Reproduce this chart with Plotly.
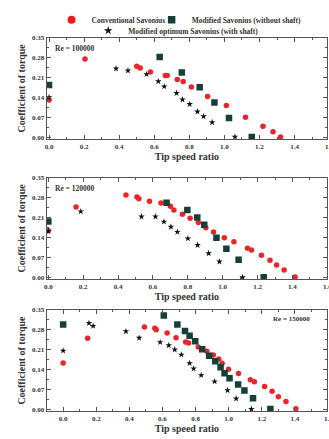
import plotly.graph_objects as go

# ---------------- data ----------------
# Re = 100000
conv1_x = [0.0, 0.205, 0.50, 0.52, 0.578, 0.663, 0.674, 0.731, 0.765, 0.812, 0.904, 1.011, 1.12, 1.22, 1.277, 1.32]
conv1_y = [0.131, 0.275, 0.249, 0.243, 0.229, 0.217, 0.217, 0.203, 0.196, 0.176, 0.143, 0.111, 0.070, 0.038, 0.019, 0.001]
mod1_x = [0.0, 0.631, 0.757, 0.859, 0.943, 1.026, 1.156]
mod1_y = [0.183, 0.282, 0.227, 0.175, 0.122, 0.067, 0.001]
opt1_x = [0.0, 0.382, 0.45, 0.556, 0.623, 0.657, 0.727, 0.761, 0.802, 0.846, 0.881, 0.93, 1.06]
opt1_y = [0.140, 0.241, 0.234, 0.221, 0.196, 0.178, 0.155, 0.132, 0.116, 0.090, 0.073, 0.052, 0.001]

# Re = 120000
conv2_x = [0.0, 0.159, 0.445, 0.508, 0.519, 0.58, 0.646, 0.70, 0.72, 0.769, 0.813, 0.86, 0.903, 0.947,
           1.009, 1.064, 1.142, 1.165, 1.222, 1.271, 1.309, 1.352, 1.415]
conv2_y = [0.163, 0.247, 0.289, 0.282, 0.276, 0.267, 0.261, 0.249, 0.236, 0.221, 0.207, 0.192, 0.174, 0.159,
           0.139, 0.125, 0.102, 0.096, 0.077, 0.060, 0.043, 0.025, 0.001]
mod2_x = [0.0, 0.678, 0.797, 0.854, 0.894, 0.964, 1.021, 1.091, 1.235]
mod2_y = [0.196, 0.262, 0.236, 0.210, 0.184, 0.139, 0.100, 0.061, 0.0]
opt2_x = [0.0, 0.186, 0.534, 0.614, 0.663, 0.703, 0.74, 0.80, 0.856, 0.919, 0.981, 1.114]
opt2_y = [0.162, 0.231, 0.213, 0.213, 0.195, 0.177, 0.159, 0.136, 0.113, 0.084, 0.055, 0.0]

# Re = 150000
conv3_x = [0.0, 0.148, 0.491, 0.554, 0.562, 0.628, 0.682, 0.74, 0.758, 0.816, 0.868, 0.907, 0.94, 0.96,
           0.999, 1.059, 1.131, 1.155, 1.217, 1.262, 1.30, 1.346, 1.406]
conv3_y = [0.163, 0.250, 0.289, 0.285, 0.280, 0.268, 0.252, 0.237, 0.233, 0.219, 0.204, 0.191, 0.177, 0.162,
           0.141, 0.126, 0.104, 0.097, 0.080, 0.064, 0.044, 0.028, 0.002]
mod3_x = [0.0, 0.608, 0.69, 0.736, 0.764, 0.798, 0.84, 0.882, 0.919, 0.951, 0.975, 1.005, 1.057, 1.095, 1.147, 1.252]
mod3_y = [0.298, 0.330, 0.298, 0.275, 0.259, 0.239, 0.211, 0.188, 0.169, 0.148, 0.127, 0.109, 0.087, 0.066, 0.039, 0.001]
opt3_x = [0.0, 0.156, 0.181, 0.379, 0.459, 0.586, 0.638, 0.674, 0.714, 0.764, 0.788, 0.834, 0.915, 0.993, 1.045, 1.137]
opt3_y = [0.206, 0.303, 0.293, 0.274, 0.251, 0.236, 0.225, 0.210, 0.192, 0.162, 0.143, 0.120, 0.098, 0.067, 0.038, 0.001]

re_labels = ["Re = 100000", "Re = 120000", "Re = 150000"]
series_names = ["Conventional Savonius", "Modified Savonius (without shaft)", "Modified optimum Savonius (with shaft)"]
x_tick_vals = [0.0, 0.2, 0.4, 0.6, 0.8, 1.0, 1.2, 1.4]
x_tick_text = ["0.0", "0.2", "0.4", "0.6", "0.8", "1.0", "1.2", "1.4"]
y_tick_vals = [0.00, 0.07, 0.14, 0.21, 0.28, 0.35]

# ---------------- styling ----------------
FONT = "Liberation Serif"
RED = "#e8252a"
TEAL = "#163f3a"
BLACK = "#111111"
W, H = 329, 439

panels = [
    dict(conv=(conv1_x, conv1_y), mod=(mod1_x, mod1_y), opt=(opt1_x, opt1_y),
         ypx=(34, 137), xrange=[-0.014, 1.585]),
    dict(conv=(conv2_x, conv2_y), mod=(mod2_x, mod2_y), opt=(opt2_x, opt2_y),
         ypx=(176, 279), xrange=[-0.010, 1.598]),
    dict(conv=(conv3_x, conv3_y), mod=(mod3_x, mod3_y), opt=(opt3_x, opt3_y),
         ypx=(310, 413), xrange=[-0.100, 1.594]),
]
XPX = (44, 327)

fig = go.Figure()
layout = dict(
    width=W, height=H, margin=dict(l=0, r=0, t=0, b=0),
    paper_bgcolor="white", plot_bgcolor="white",
    font=dict(family=FONT, color="#222", size=7, weight="bold"),
    showlegend=True,
)

annotations = []
for i, p in enumerate(panels):
    n = "" if i == 0 else str(i + 1)
    xa, ya = "x" + n, "y" + n
    fig.add_trace(go.Scatter(x=p["conv"][0], y=p["conv"][1], mode="markers", xaxis=xa, yaxis=ya,
                             marker=dict(symbol="circle", size=5.5, color=RED), showlegend=False))
    fig.add_trace(go.Scatter(x=p["mod"][0], y=p["mod"][1], mode="markers", xaxis=xa, yaxis=ya,
                             marker=dict(symbol="square", size=6.5, color=TEAL), showlegend=False))
    fig.add_trace(go.Scatter(x=p["opt"][0], y=p["opt"][1], mode="markers", xaxis=xa, yaxis=ya,
                             marker=dict(symbol="star", size=5, color=BLACK), showlegend=False))
    y0, y1 = p["ypx"]
    axis_common = dict(showline=True, linecolor="#555", linewidth=1, mirror="allticks",
                       ticks="inside", ticklen=4, tickwidth=1, tickcolor="#555",
                       showgrid=False, zeroline=False, fixedrange=True,
                       tickfont=dict(family=FONT, size=7, color="#333", weight="bold"))
    layout["xaxis" + n] = dict(axis_common, domain=[XPX[0] / W, XPX[1] / W], anchor=ya,
                               range=p["xrange"], tickvals=x_tick_vals, ticktext=x_tick_text,
                               minor=dict(dtick=0.1, tick0=0, ticks="inside", ticklen=2, tickcolor="#555"),
                               title=dict(text="Tip speed ratio", standoff=3,
                                          font=dict(family=FONT, size=10, color="#333", weight="bold")))
    layout["yaxis" + n] = dict(axis_common, domain=[1 - y1 / H, 1 - y0 / H], anchor=xa,
                               range=[-0.0069, 0.35], tickvals=y_tick_vals, tickformat=".2f",
                               minor=dict(dtick=0.035, tick0=0, ticks="inside", ticklen=2, tickcolor="#555"),
                               title=dict(text="Coefficient of torque", standoff=4,
                                          font=dict(family=FONT, size=10, color="#333", weight="bold")))
    # "1.6" tick label cut at the right edge
    r0, r1 = p["xrange"]
    px16 = XPX[0] + (1.6 - r0) / (r1 - r0) * (XPX[1] - XPX[0])
    annotations.append(dict(text="1.6", xref="paper", yref="paper", x=px16 / W, y=1 - (y1 + 8) / H,
                            showarrow=False, xanchor="center", yanchor="middle",
                            font=dict(family=FONT, size=7, color="#333", weight="bold")))
    # Re labels
    if i < 2:
        annotations.append(dict(text=re_labels[i], xref="paper", yref="paper", x=50 / W, y=1 - (y0 + 11) / H,
                                showarrow=False, xanchor="left", yanchor="middle",
                                font=dict(family=FONT, size=7.5, color="#333", weight="bold")))
    else:
        annotations.append(dict(text=re_labels[i], xref="paper", yref="paper", x=312 / W, y=1 - (y0 + 9) / H,
                                showarrow=False, xanchor="right", yanchor="middle",
                                font=dict(family=FONT, size=7, color="#333", weight="bold")))

# legend entries
leg_markers = [dict(symbol="circle", size=8, color="#ee1c1c"),
               dict(symbol="square", size=7.5, color=TEAL),
               dict(symbol="star", size=6.5, color=BLACK)]
leg_names = ["legend", "legend2", "legend3"]
for name, mk, lg in zip(series_names, leg_markers, leg_names):
    fig.add_trace(go.Scatter(x=[None], y=[None], mode="markers", name=name, marker=mk,
                             legend=lg, showlegend=True))

leg_font = dict(family=FONT, size=7.5, color="#333", weight="bold")
layout["legend"] = dict(x=49 / W, y=1 - 16 / H, xanchor="left", yanchor="middle",
                        bgcolor="rgba(0,0,0,0)", font=leg_font, borderwidth=0)
layout["legend2"] = dict(x=150 / W, y=1 - 16 / H, xanchor="left", yanchor="middle",
                         bgcolor="rgba(0,0,0,0)", font=leg_font, borderwidth=0)
layout["legend3"] = dict(x=86 / W, y=1 - 27 / H, xanchor="left", yanchor="middle",
                         bgcolor="rgba(0,0,0,0)", font=leg_font, borderwidth=0)
layout["annotations"] = annotations

fig.update_layout(**layout)
fig.write_html("out.html", config={"displayModeBar": False},
               post_script="document.body.style.margin='0';")
